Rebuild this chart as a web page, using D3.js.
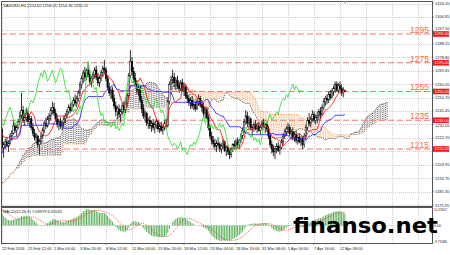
<!DOCTYPE html>
<html lang="en">
<head>
<meta charset="UTF-8">
<title>XAUUSD H4</title>
<script src="https://cdn.jsdelivr.net/npm/d3@7/dist/d3.min.js"></script>
<style>
    html,body{margin:0;padding:0;background:#fff;}
    svg{display:block;font-family:"Liberation Sans",Arial,sans-serif;}
</style>
</head>
<body>
<svg id="chart"></svg>
<script>
    // bars before the first visible one (needed for the ichimoku / macd windows)
    var preBars = [
        [1195,1200,1183,1190],[1190,1198,1186,1196],[1196,1203,1192,1201],[1201,1206,1196,1199],
        [1199,1207,1197,1205],[1205,1211,1202,1209],[1209,1214,1204,1207],[1207,1213,1205,1212],
        [1212,1218,1209,1216],[1216,1220,1211,1214],[1214,1219,1210,1217],[1217,1223,1215,1221],
        [1221,1226,1218,1224],[1224,1229,1219,1222],[1222,1230,1221,1228],[1228,1234,1225,1231],
        [1231,1235,1226,1228],[1228,1233,1224,1231],[1231,1236,1228,1233],[1233,1238,1229,1231],
        [1231,1234,1226,1229],[1229,1233,1225,1231],[1231,1237,1229,1234],[1234,1236,1228,1230],
        [1230,1233,1226,1232],[1232,1234,1227,1229]
    ];
    // visible H4 bars: open, high, low, close
    var bars = [
        [1229,1230,1214,1216],[1216,1220,1209,1218],[1218,1222,1215,1220],[1220,1223,1216,1217],
        [1217,1221,1213,1219],[1219,1226,1218,1224],[1224,1228,1221,1226],[1226,1235,1225,1231],
        [1231,1233,1226,1228],[1228,1232,1224,1230],[1230,1236,1229,1234],[1234,1241,1232,1238],
        [1238,1254,1236,1242],[1242,1245,1233,1235],[1235,1240,1231,1237],[1237,1243,1234,1240],
        [1240,1242,1232,1234],[1234,1239,1230,1236],[1236,1238,1228,1230],[1230,1233,1224,1226],
        [1226,1229,1221,1223],[1223,1226,1219,1224],[1224,1225,1216,1218],[1218,1222,1211,1220],
        [1220,1226,1218,1224],[1224,1230,1222,1228],[1228,1235,1226,1233],[1233,1237,1229,1231],
        [1231,1238,1230,1236],[1236,1240,1233,1238],[1238,1244,1235,1242],[1242,1248,1239,1244],
        [1244,1247,1238,1240],[1240,1243,1234,1236],[1236,1239,1230,1232],[1232,1236,1228,1234],
        [1234,1237,1229,1231],[1231,1235,1228,1233],[1233,1238,1231,1236],[1236,1240,1233,1238],
        [1238,1243,1236,1241],[1241,1246,1239,1244],[1244,1247,1240,1242],[1242,1248,1241,1246],
        [1246,1251,1244,1249],[1249,1253,1245,1247],[1247,1252,1244,1250],[1250,1256,1248,1254],
        [1254,1262,1252,1260],[1260,1266,1257,1264],[1264,1270,1261,1268],[1268,1272,1262,1265],
        [1265,1271,1263,1270],[1270,1275,1265,1267],[1267,1270,1260,1262],[1262,1266,1258,1264],
        [1264,1269,1261,1267],[1267,1272,1264,1270],[1270,1273,1263,1265],[1265,1268,1259,1261],
        [1261,1266,1258,1264],[1264,1270,1262,1268],[1268,1273,1265,1271],[1271,1277,1267,1270],
        [1270,1272,1262,1264],[1264,1266,1256,1258],[1258,1261,1252,1254],[1254,1258,1250,1256],
        [1256,1258,1248,1250],[1250,1253,1243,1245],[1245,1248,1238,1241],[1241,1245,1236,1243],
        [1243,1246,1237,1239],[1239,1243,1234,1241],[1241,1247,1239,1245],[1245,1248,1240,1242],
        [1242,1249,1240,1247],[1247,1254,1245,1252],[1252,1268,1250,1266],[1266,1284,1264,1276],
        [1276,1279,1266,1269],[1269,1272,1261,1264],[1264,1268,1258,1260],[1260,1263,1253,1256],
        [1256,1260,1252,1258],[1258,1259,1247,1249],[1249,1252,1240,1243],[1243,1246,1236,1238],
        [1238,1242,1234,1240],[1240,1241,1231,1233],[1233,1237,1229,1235],[1235,1238,1229,1231],
        [1231,1235,1227,1233],[1233,1236,1228,1230],[1230,1234,1226,1232],[1232,1236,1229,1234],
        [1234,1235,1227,1229],[1229,1233,1226,1231],[1231,1234,1227,1228],[1228,1232,1225,1230],
        [1230,1235,1228,1233],[1233,1236,1229,1231],[1231,1250,1230,1248],[1248,1262,1246,1260],
        [1260,1266,1256,1263],[1263,1270,1260,1265],[1265,1268,1258,1261],[1261,1265,1256,1263],
        [1263,1266,1257,1259],[1259,1262,1254,1257],[1257,1263,1255,1261],[1261,1264,1255,1256],
        [1256,1260,1252,1258],[1258,1259,1250,1252],[1252,1255,1247,1250],[1250,1253,1245,1247],
        [1247,1251,1243,1249],[1249,1252,1243,1245],[1245,1249,1242,1246],[1246,1248,1241,1243],
        [1243,1250,1242,1248],[1248,1253,1245,1250],[1250,1252,1244,1246],[1246,1249,1241,1244],
        [1244,1247,1238,1240],[1240,1244,1236,1242],[1242,1244,1235,1237],[1237,1239,1228,1230],
        [1230,1232,1222,1224],[1224,1227,1218,1221],[1221,1224,1216,1219],[1219,1222,1214,1217],
        [1217,1221,1213,1219],[1219,1223,1216,1218],[1218,1220,1213,1215],[1215,1219,1212,1217],
        [1217,1222,1215,1220],[1220,1221,1213,1214],[1214,1217,1210,1216],[1216,1218,1211,1213],
        [1213,1215,1208,1211],[1211,1216,1209,1215],[1215,1219,1213,1218],[1218,1221,1215,1217],
        [1217,1222,1215,1220],[1220,1223,1216,1218],[1218,1222,1215,1221],[1221,1226,1219,1224],
        [1224,1230,1222,1228],[1228,1236,1226,1234],[1234,1242,1232,1238],[1238,1241,1230,1233],
        [1233,1238,1229,1236],[1236,1237,1228,1230],[1230,1232,1224,1230],[1230,1234,1227,1232],
        [1232,1235,1228,1229],[1229,1233,1226,1231],[1231,1234,1227,1228],[1228,1232,1225,1230],
        [1230,1235,1228,1233],[1233,1236,1229,1230],[1230,1233,1226,1232],[1232,1234,1227,1229],
        [1229,1231,1222,1224],[1224,1226,1216,1218],[1218,1221,1212,1215],[1215,1218,1210,1213],
        [1213,1217,1208,1215],[1215,1219,1212,1217],[1217,1220,1213,1214],[1214,1218,1211,1216],
        [1216,1222,1215,1220],[1220,1226,1218,1224],[1224,1229,1222,1227],[1227,1231,1224,1229],
        [1229,1233,1226,1230],[1230,1232,1224,1226],[1226,1229,1222,1227],[1227,1230,1221,1223],
        [1223,1227,1220,1225],[1225,1228,1219,1221],[1221,1225,1218,1223],[1223,1226,1219,1220],
        [1220,1224,1217,1222],[1222,1224,1215,1218],[1218,1226,1216,1224],[1224,1232,1222,1230],
        [1230,1237,1228,1235],[1235,1240,1231,1233],[1233,1238,1230,1236],[1236,1242,1234,1239],
        [1239,1241,1233,1235],[1235,1239,1232,1237],[1237,1241,1233,1238],[1238,1243,1235,1241],
        [1241,1244,1236,1239],[1239,1246,1238,1244],[1244,1250,1242,1248],[1248,1252,1245,1250],
        [1250,1253,1246,1249],[1249,1255,1247,1253],[1253,1256,1249,1251],[1251,1257,1250,1255],
        [1255,1259,1252,1257],[1257,1262,1254,1260],[1260,1262,1255,1256],[1256,1261,1254,1259],
        [1259,1262,1255,1257],[1257,1260,1252,1254],[1254,1258,1251,1256],[1256,1256.05,1254.36,1255.11]
    ];
    var dateLabels = ["22 Feb 2016","25 Feb 12:00","1 Mar 04:00","3 Mar 20:00","8 Mar 12:00","11 Mar 04:00",
        "15 Mar 20:00","18 Mar 12:00","23 Mar 04:00","28 Mar 16:00","31 Mar 08:00","5 Apr 00:00",
        "7 Apr 16:00","12 Apr 08:00"];
    var priceTicks = [1316.20,1306.85,1297.50,1288.15,1278.80,1269.45,1260.05,1250.70,1241.45,
        1232.05,1222.70,1213.30,1203.95,1194.70,1185.30,1175.95];
    var levels = [1295,1275,1255,1235,1215];
    var macdTicks = [10.22657,0,-9.71586];
    var titleText = "XAUUSD,H4  1254.62 1256.05 1254.36 1255.11";
    var macdText = "MACD(12,26,9) 7.09979 6.55532";

    var width=450,height=255;
    var left=1,right=432,top1=1,bottom1=206,top2=207,bottom2=243;
    var svg = d3.select("#chart").attr("width",width).attr("height",height);

    var x = d3.scaleLinear().domain([0,16]).range([2,28]);
    var y = d3.scaleLinear().domain([1175.35,1317.26]).range([bottom1,2]);
    var ym = d3.scaleLinear().domain([-9.71586,10.22657]).range([bottom2,top2]);

    // ichimoku 9/26/52 and macd 12/26/9 from the bars
    var all = preBars.concat(bars);
    var P = preBars.length;
    function mid(end,len){
        var hi=-Infinity,lo=Infinity;
        for(var k=Math.max(0,end-len+1);k<=end;k++){hi=Math.max(hi,all[k][1]);lo=Math.min(lo,all[k][2]);}
        return (hi+lo)/2;
    }
    var tenkan = all.map(function(d,j){return mid(j,9);});
    var kijun = all.map(function(d,j){return mid(j,26);});
    var spanB = all.map(function(d,j){return mid(j,52);});
    var cloud = all.map(function(d,j){return {i:j+26-P,a:(tenkan[j]+kijun[j])/2,b:spanB[j]};})
        .filter(function(d){return d.i>=0;});
    var chikou = bars.slice(26).map(function(d,i){return [i,d[3]];});

    function ema(arr,n){
        var k=2/(n+1),out=[];
        arr.forEach(function(v,i){out.push(i===0?v:v*k+out[i-1]*(1-k));});
        return out;
    }
    var closes = all.map(function(d){return d[3];});
    var e12=ema(closes,12),e26=ema(closes,26);
    var macd = closes.map(function(c,j){return e12[j]-e26[j];});
    var signal = macd.map(function(m,j){return d3.mean(macd.slice(Math.max(0,j-8),j+1));});

    var defs = svg.append("defs");
    defs.append("clipPath").attr("id","clipMain").append("rect")
        .attr("x",left).attr("y",top1).attr("width",right-left).attr("height",bottom1-top1);
    defs.append("clipPath").attr("id","clipMacd").append("rect")
        .attr("x",left).attr("y",top2).attr("width",right-left).attr("height",bottom2-top2);

    // grid
    var grid = svg.append("g").attr("stroke","#c4c4c4").attr("stroke-dasharray","1,1").attr("stroke-width",0.8);
    priceTicks.forEach(function(v){
        grid.append("line").attr("x1",left).attr("x2",right).attr("y1",Math.round(y(v))+0.5).attr("y2",Math.round(y(v))+0.5);
    });
    d3.range(0,17).forEach(function(k){
        var gx=Math.round(x(k*16))+0.5;
        if(gx>=right) return;
        grid.append("line").attr("x1",gx).attr("x2",gx).attr("y1",top1).attr("y2",bottom1);
        grid.append("line").attr("x1",gx).attr("x2",gx).attr("y1",top2).attr("y2",bottom2);
    });
    grid.append("line").attr("x1",left).attr("x2",right).attr("y1",Math.round(ym(0))+0.5).attr("y2",Math.round(ym(0))+0.5);

    // main panel
    var main = svg.append("g").attr("clip-path","url(#clipMain)");

    // kumo as dotted bar lines: grey when span A is on top, sandy brown otherwise
    main.append("g").selectAll("line").data(cloud).enter().append("line")
        .attr("x1",function(d){return x(d.i);}).attr("x2",function(d){return x(d.i);})
        .attr("y1",function(d){return y(d.a);}).attr("y2",function(d){return y(d.b);})
        .attr("stroke",function(d){return d.a>=d.b?"#555":"#f4a460";})
        .attr("stroke-width",0.9).attr("stroke-dasharray","1,1");
    var lineGen = d3.line().x(function(d){return x(d[0]);}).y(function(d){return y(d[1]);});
    main.append("path").attr("d",lineGen(cloud.map(function(d){return [d.i,d.a];})))
        .attr("fill","none").attr("stroke","#666").attr("stroke-dasharray","1,1");
    main.append("path").attr("d",lineGen(cloud.map(function(d){return [d.i,d.b];})))
        .attr("fill","none").attr("stroke","#f4a460").attr("stroke-dasharray","1,1");

    // levels
    levels.forEach(function(v){
        main.append("line").attr("x1",left).attr("x2",right).attr("y1",y(v)).attr("y2",y(v))
            .attr("stroke","#f27878").attr("stroke-width",1.2).attr("stroke-dasharray","6,3");
    });

    // candles
    var candles = main.append("g").selectAll("g").data(bars).enter().append("g");
    candles.append("line")
        .attr("x1",function(d,i){return x(i);}).attr("x2",function(d,i){return x(i);})
        .attr("y1",function(d){return y(d[1]);}).attr("y2",function(d){return y(d[2]);})
        .attr("stroke","#000").attr("stroke-width",0.8);
    candles.append("rect")
        .attr("x",function(d,i){return x(i)-0.7;}).attr("width",1.4)
        .attr("y",function(d){return y(Math.max(d[0],d[3]));})
        .attr("height",function(d){return Math.max(0.6,Math.abs(y(d[0])-y(d[3])));})
        .attr("fill",function(d){return d[3]>=d[0]?"#fff":"#000";})
        .attr("stroke","#000").attr("stroke-width",0.5);

    // tenkan, kijun, chikou
    main.append("path").attr("d",lineGen(bars.map(function(d,i){return [i,tenkan[i+P]];})))
        .attr("fill","none").attr("stroke","#ff1a1a").attr("stroke-width",0.9);
    main.append("path").attr("d",lineGen(bars.map(function(d,i){return [i,kijun[i+P]];})))
        .attr("fill","none").attr("stroke","#2b2bff").attr("stroke-width",0.9);
    main.append("path").attr("d",lineGen(chikou))
        .attr("fill","none").attr("stroke","#3ee03e").attr("stroke-width",0.9);

    // level captions
    levels.forEach(function(v){
        svg.append("text").attr("x",right-3).attr("y",y(v)-1.2).attr("text-anchor","end")
            .attr("font-size",8.5).attr("fill","#ff6a3c").text(v);
    });

    // macd panel
    var sub = svg.append("g").attr("clip-path","url(#clipMacd)");
    sub.append("g").selectAll("line").data(bars).enter().append("line")
        .attr("x1",function(d,i){return x(i);}).attr("x2",function(d,i){return x(i);})
        .attr("y1",ym(0)).attr("y2",function(d,i){return ym(macd[i+P]);})
        .attr("stroke","#4aa84a").attr("stroke-width",0.9);
    sub.append("path")
        .attr("d",d3.line().x(function(d,i){return x(i);}).y(function(d,i){return ym(signal[i+P]);})(bars))
        .attr("fill","none").attr("stroke","#ff3030").attr("stroke-width",0.8).attr("stroke-dasharray","1,1");

    // frames
    svg.append("rect").attr("x",left+0.5).attr("y",top1+0.5).attr("width",right-left).attr("height",bottom1-top1)
        .attr("fill","none").attr("stroke","#555");
    svg.append("rect").attr("x",left+0.5).attr("y",top2+0.5).attr("width",right-left).attr("height",bottom2-top2)
        .attr("fill","none").attr("stroke","#555");
    svg.append("path").attr("d","M343,1L347,1L345,3.5Z").attr("fill","#888");

    // right price axis; labels hidden under a level box are skipped, close ones pushed aside
    var axis = svg.append("g").attr("font-size",4).attr("fill","#222");
    priceTicks.forEach(function(v){
        var ty=y(v);
        axis.append("line").attr("x1",right).attr("x2",right+2).attr("y1",ty).attr("y2",ty).attr("stroke","#555").attr("stroke-width",0.6);
        var near=levels.map(function(l){return ty-y(l);}).filter(function(dd){return Math.abs(dd)<6;});
        if(near.length){
            if(Math.abs(near[0])<3) return;
            ty = y(v)-near[0] + (near[0]<0?-5.4:5.4);
        }
        axis.append("text").attr("x",right+3).attr("y",ty+1.4).text(v.toFixed(2));
    });
    macdTicks.forEach(function(v){
        axis.append("text").attr("x",right+2).attr("y",Math.min(Math.max(ym(v)+1.4,top2+4),bottom2-0.5))
            .attr("font-size",3.6).attr("textLength",v===0?null:13).attr("lengthAdjust","spacingAndGlyphs")
            .text(v===0?"0.00":v.toFixed(5));
    });
    levels.forEach(function(v){
        svg.append("rect").attr("x",right+1).attr("y",y(v)-2.8).attr("width",16).attr("height",5.6).attr("fill","#f01818");
        svg.append("text").attr("x",right+2.5).attr("y",y(v)+1.4).attr("font-size",4).attr("fill","#fff").text(v.toFixed(2));
    });

    // dates
    dateLabels.forEach(function(t,k){
        var gx=x(k*16);
        svg.append("line").attr("x1",gx).attr("x2",gx).attr("y1",bottom2).attr("y2",bottom2+2).attr("stroke","#555").attr("stroke-width",0.6);
        svg.append("text").attr("x",gx).attr("y",249.5).attr("font-size",4).attr("fill","#222").text(t);
    });

    svg.append("text").attr("x",3).attr("y",7).attr("font-size",4).attr("fill","#111").text(titleText);
    svg.append("text").attr("x",3).attr("y",212.5).attr("font-size",4).attr("fill","#111").text(macdText);

    // watermark
    svg.append("text").attr("x",293).attr("y",233).attr("font-family","'DejaVu Sans',sans-serif")
        .attr("font-weight","bold").attr("font-size",22).attr("textLength",145).attr("lengthAdjust","spacingAndGlyphs")
        .attr("fill","#000").text("finanso.net");
</script>
</body>
</html>
